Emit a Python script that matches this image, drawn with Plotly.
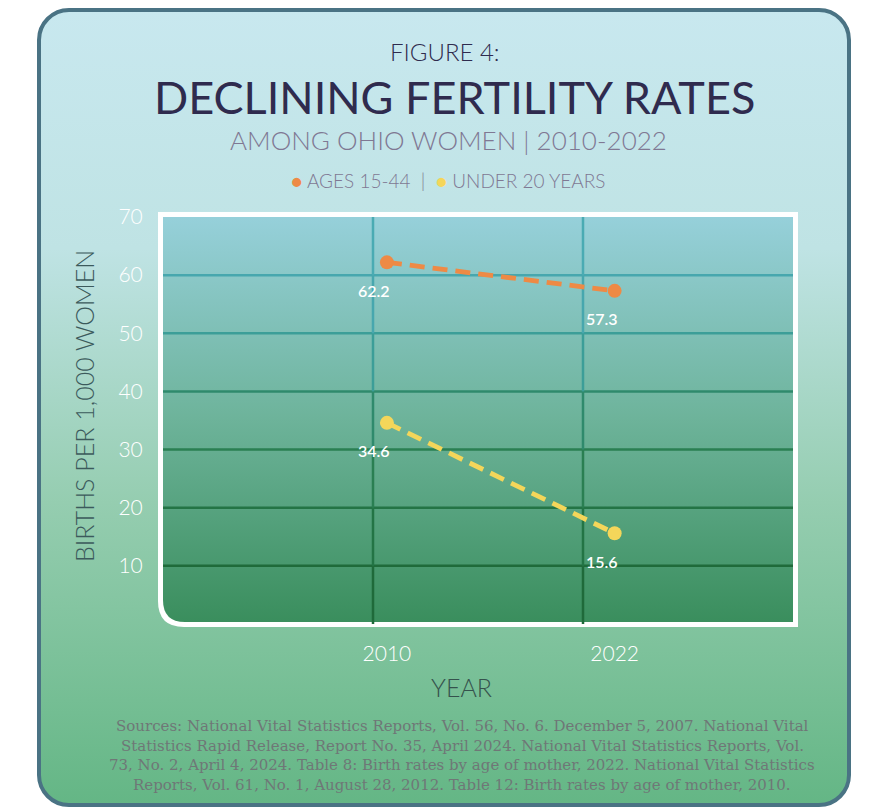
"""Figure 4: declining fertility rates among Ohio women, 2010 vs 2022."""
import base64

import plotly.graph_objects as go

YEARS = [2010, 2022]
AGES_15_44 = [62.2, 57.3]
UNDER_20 = [34.6, 15.6]
Y_TICKS = [10, 20, 30, 40, 50, 60, 70]
SERIES_NAMES = ["AGES 15-44", "UNDER 20 YEARS"]
SOURCE_LINES = [
    "Sources: National Vital Statistics Reports, Vol. 56, No. 6. December 5, 2007. National Vital",
    "Statistics Rapid Release, Report No. 35, April 2024. National Vital Statistics Reports, Vol.",
    "73, No. 2, April 4, 2024. Table 8: Birth rates by age of mother, 2022. National Vital Statistics",
    "Reports, Vol. 61, No. 1, August 28, 2012. Table 12: Birth rates by age of mother, 2010.",
]

ORANGE = "#ee8a45"
YELLOW = "#f4d65a"
SANS = "Lato, 'Open Sans', sans-serif"
SERIF = "'DejaVu Serif', 'Liberation Serif', serif"

# page body adds an 8px margin, so everything below is in figure pixels
W, H = 875, 807
L, R, T, B = 155, 90, 209, 191  # plot area 155..785 x 209..616

# decorative card + plot-frame gradients, drawn under everything
bg_svg = f"""<svg xmlns='http://www.w3.org/2000/svg' width='{W}' height='{H}' viewBox='0 0 {W} {H}'>
<defs>
<linearGradient id='card' x1='0' y1='0' x2='0' y2='1'>
<stop offset='0' stop-color='#c8e8ef'/><stop offset='0.3' stop-color='#bfe3e4'/>
<stop offset='0.62' stop-color='#95cdb0'/><stop offset='1' stop-color='#64b685'/>
</linearGradient>
<linearGradient id='plot' x1='0' y1='0' x2='0' y2='1'>
<stop offset='0' stop-color='#96d0da'/><stop offset='0.5' stop-color='#6db39a'/>
<stop offset='1' stop-color='#3a8e5d'/>
</linearGradient>
</defs>
<rect x='0' y='0' width='{W}' height='{H}' fill='#ffffff'/>
<rect x='31' y='2' width='810' height='795' rx='30' ry='30' fill='url(#card)' stroke='#4a7384' stroke-width='4'/>
<path d='M150 204 H790 V619 H176 Q150 619 150 593 Z' fill='#ffffff'/>
<path d='M155 209 H785 V614 H177 Q155 614 155 592 Z' fill='url(#plot)'/>
</svg>"""
bg_uri = "data:image/svg+xml;base64," + base64.b64encode(bg_svg.encode()).decode()

pw, ph = W - L - R, H - T - B

fig = go.Figure()

for name, vals, color in [(SERIES_NAMES[0], AGES_15_44, ORANGE), (SERIES_NAMES[1], UNDER_20, YELLOW)]:
    fig.add_trace(
        go.Scatter(
            x=YEARS,
            y=vals,
            name=name,
            mode="lines+markers",
            line={"color": color, "width": 4.8, "dash": "15px,8px"},
            marker={"color": color, "size": 14},
            hoverinfo="skip",
        )
    )
    for xv, yv in zip(YEARS, vals):
        fig.add_annotation(
            x=xv, y=yv, text=f"{yv:.1f}", showarrow=False,
            xshift=-13, yshift=-28,
            font={"family": SANS, "size": 16, "color": "white", "weight": 600},
        )

# horizontal grid, teal at top fading to dark green at the bottom
grid_cols = {10: "#1f6b3a", 20: "#237445", 30: "#2a7f52", 40: "#2f8a6c", 50: "#3c9e98", 60: "#47a7ae"}
for v, c in grid_cols.items():
    fig.add_shape(type="line", xref="x domain", yref="y", x0=0, x1=1, y0=v, y1=v,
                  line={"color": c, "width": 2.5}, layer="below")
# vertical grid split into segments so the colour follows the gradient
seg_cols = ["#1f6a3a", "#237445", "#2a7f52", "#2f8a6c", "#3c9e98", "#47a7ae", "#4aabb3"]
for xd in (1 / 3, 2 / 3):
    for i, c in enumerate(seg_cols):
        fig.add_shape(type="line", xref="x domain", yref="y", x0=xd, x1=xd,
                      y0=i * 10, y1=(i + 1) * 10, line={"color": c, "width": 2.5}, layer="below")

fig.add_layout_image(
    source=bg_uri, xref="paper", yref="paper",
    x=-L / pw, y=1 + T / ph, sizex=W / pw, sizey=H / ph,
    sizing="stretch", layer="below", xanchor="left", yanchor="top",
)


def ann(text, x, y, size, color, family=SANS, weight=400, **kw):
    fig.add_annotation(
        text=text, xref="paper", yref="paper",
        x=(x - L) / pw, y=1 - (y - T) / ph,
        showarrow=False, font={"family": family, "size": size, "color": color, "weight": weight},
        xanchor="center", yanchor="middle", **kw,
    )


ann("FIGURE 4:", 437, 43, 24, "#2f2b4e", weight=300)
ann("DECLINING FERTILITY RATES", 446, 89, 45, "#2f2b4e")
ann("AMONG OHIO WOMEN | 2010-2022", 440, 132, 26, "#7f7893", weight=300)
ann(
    f"<span style='color:{ORANGE}'>●</span> {SERIES_NAMES[0]}  |  "
    f"<span style='color:{YELLOW}'>●</span> {SERIES_NAMES[1]}",
    440, 173, 19, "#7f7893", weight=300,
)
ann("BIRTHS PER 1,000 WOMEN", 76, 398, 25, "#3c5a5c", weight=300, textangle=-90)
ann("YEAR", 453, 679, 25, "#35524d", weight=300)
for i, line in enumerate(SOURCE_LINES):
    ann(line, 454, 718 + i * 19.5, 15, "#6f7777", family=SERIF)

tick_font = {"family": SANS, "size": 21, "color": "white", "weight": 300}
fig.update_layout(
    width=W, height=H, autosize=False,
    margin={"l": L, "r": R, "t": T, "b": B, "pad": 0},
    paper_bgcolor="white",
    plot_bgcolor="rgba(0,0,0,0)",
    showlegend=False,
    font={"family": SANS},
    xaxis={
        "range": [1998.2, 2031.4], "tickvals": YEARS, "showgrid": False, "zeroline": False,
        "showline": False, "ticks": "outside", "ticklen": 11, "tickcolor": "rgba(0,0,0,0)",
        "tickfont": tick_font, "fixedrange": True,
    },
    yaxis={
        "range": [0, 70], "tickvals": Y_TICKS, "showgrid": False, "zeroline": False,
        "showline": False, "ticks": "outside", "ticklen": 15, "tickcolor": "rgba(0,0,0,0)",
        "tickfont": tick_font, "fixedrange": True,
    },
)

fig.write_html("out.html")
